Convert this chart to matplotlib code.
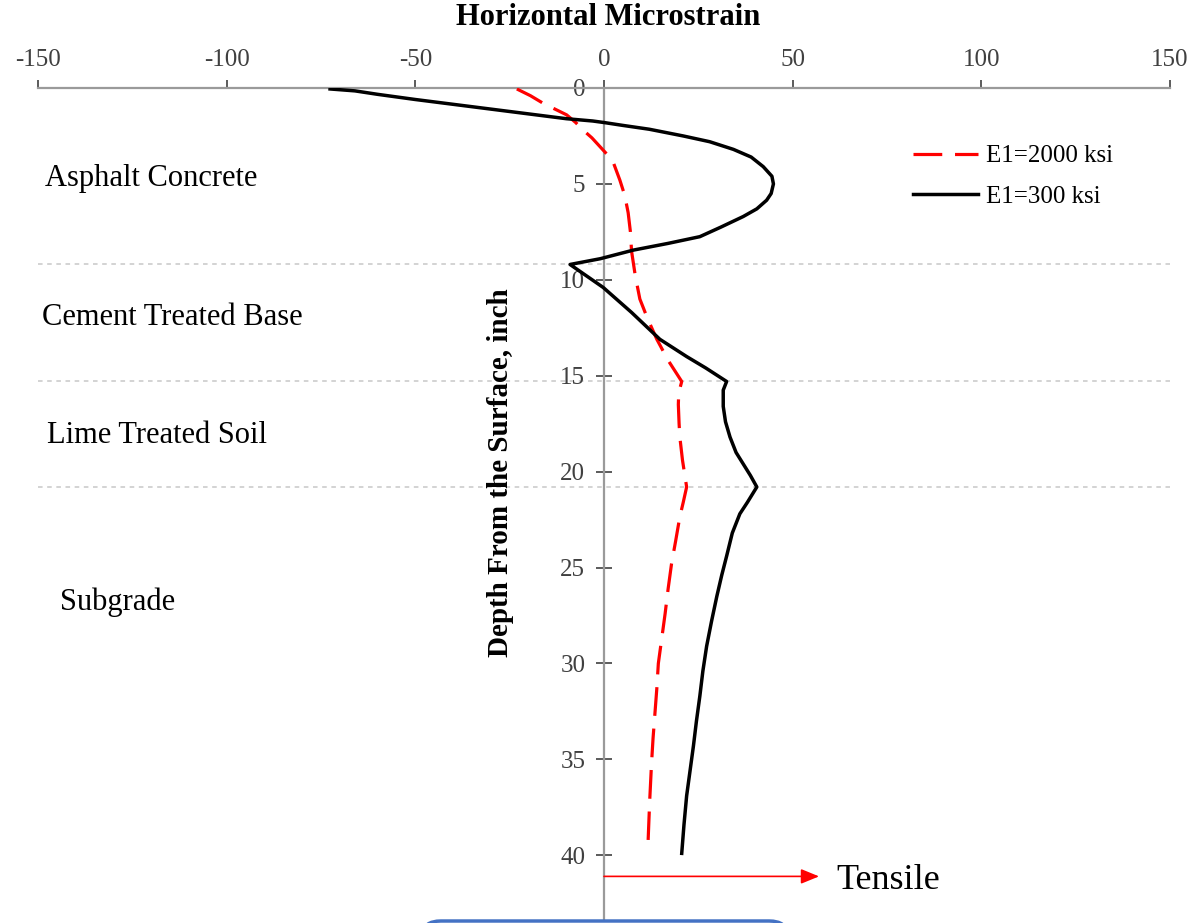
import matplotlib
matplotlib.use('Agg')  # no UI backend

import matplotlib.pyplot as plt
from matplotlib.patches import FancyBboxPatch

plt.rcParams['font.family'] = ['Liberation Serif', 'DejaVu Serif']
plt.rcParams['axes.unicode_minus'] = False

# E1 = 300 ksi (solid black)
depth_300 = [0.05, 0.15, 0.33, 0.6, 0.85, 1.1, 1.35, 1.6, 1.72, 1.8, 1.95, 2.15, 2.5,
             2.8, 3.2, 3.6, 4.1, 4.6, 5.0, 5.5, 5.85, 6.3, 6.7, 7.25, 7.75, 8.1, 8.45,
             8.9, 9.2, 10.4, 11.7, 13.1, 14.0, 14.6, 15.3, 15.75, 16.6, 17.4, 18.2,
             19.0, 19.6, 20.2, 20.8, 21.6, 22.2, 23.2, 24.4, 25.4, 26.5, 27.8, 29.1,
             30.4, 31.7, 33.0, 34.3, 35.6, 36.9, 38.4, 39.9]
strain_300 = [-72.6, -66, -60, -50, -40, -30, -20, -10, -3, 0, 5, 12, 21,
              28, 34.3, 39, 42.2, 44.5, 44.9, 44.3, 43.1, 40.5, 36.9, 31, 25.4, 17, 7.8,
              -1, -9, -0.2, 7.3, 14.8, 21.9, 27, 32.5, 31.6, 31.6, 32.2, 33.4,
              35, 36.9, 38.8, 40.5, 38, 36, 34, 32.5, 31.2, 29.9, 28.5, 27.2,
              26.2, 25.4, 24.5, 23.7, 22.8, 21.9, 21.2, 20.6]

# E1 = 2000 ksi (red dashed)
depth_2000 = [0.05, 0.4, 0.8, 1.1, 1.4, 1.8, 2.2, 2.6, 3.05, 3.5, 3.9, 4.8, 5.6, 6.5,
              7.5, 8.5, 9.8, 11.0, 12.0, 13.1, 14.2, 15.3, 15.9, 16.5, 17.5, 18.2,
              19.4, 20.8, 21.6, 22.35, 23.6, 24.8, 26.1, 27.4, 28.7, 30.0, 31.3, 32.6,
              33.9, 35.2, 37.2, 39.2]
strain_2000 = [-23.1, -19.5, -16.1, -13, -9.9, -7.5, -5.5, -3.2, -1.1, 1, 2.5, 4.2, 5.5,
               6.4, 7, 7.3, 8.3, 9.5, 11.5, 14, 17, 20.6, 19.8, 19.7, 19.9, 20.1,
               20.8, 21.9, 21, 20.1, 19, 17.9, 17, 16.2, 15.3, 14.4, 14, 13.5,
               13, 12.6, 12.1, 11.7]

layer_bounds = [9.2, 15.3, 20.8]
layer_names = ['Asphalt Concrete', 'Cement Treated Base', 'Lime Treated Soil', 'Subgrade']
layer_label_x = [-148.2, -149.0, -147.6, -144.2]
layer_label_y = [4.72, 11.95, 18.1, 26.8]

W, H = 1191, 923
fig = plt.figure(figsize=(W / 100, H / 100), dpi=100)
ax = fig.add_axes([38 / W, 0, 1132 / W, 1 - 88 / H])

ax.set_xlim(-150, 150)
ax.set_ylim(43.53, 0)

for b in layer_bounds:
    ax.axhline(b, color='#c8c8c8', linestyle=(0, (3, 3)), linewidth=1.1, zorder=1)

ax.plot(strain_2000, depth_2000, color='#ff0000', linewidth=2.3,
        linestyle=(0, (9, 4)), label='E1=2000 ksi', zorder=3)
ax.plot(strain_300, depth_300, color='black', linewidth=2.5,
        label='E1=300 ksi', zorder=3)

# spines: top axis + vertical axis through x = 0
for s in ['bottom', 'right']:
    ax.spines[s].set_visible(False)
ax.spines['left'].set_position(('data', 0))
for s in ['top', 'left']:
    ax.spines[s].set_color('#9a9a9a')
    ax.spines[s].set_linewidth(1.6)
    ax.spines[s].set_zorder(2)

ax.xaxis.tick_top()
ax.set_xticks(range(-150, 151, 50))
ax.set_yticks(range(0, 41, 5))
ax.tick_params(axis='x', direction='out', length=6, width=1.2, color='#404040',
               labelsize=18, labelcolor='#404040', pad=6)
ax.tick_params(axis='y', direction='inout', length=11, width=1.2, color='#404040',
               labelsize=18, labelcolor='#404040', pad=8)

fig.text(608 / W, 1 - 25 / H, 'Horizontal Microstrain', ha='center', va='baseline',
         fontsize=22, fontweight='bold')
fig.text(500 / W, 1 - 473 / H, 'Depth From the Surface, inch', ha='center',
         va='center', rotation=90, fontsize=21, fontweight='bold')

for name, lx, ly in zip(layer_names, layer_label_x, layer_label_y):
    ax.text(lx, ly, name, ha='left', va='center', fontsize=22)

ax.legend(loc='upper left', bbox_to_anchor=((913 - 38) / 1132, 1 - (145 - 88) / (H - 88)),
          bbox_transform=ax.transAxes, frameon=False, fontsize=18, handlelength=2.6,
          handletextpad=0.3, labelspacing=0.72, borderpad=0, borderaxespad=0)

# tensile direction arrow
ax.annotate('', xy=(57, 41.1), xytext=(0, 41.1),
            arrowprops=dict(arrowstyle='-|>,head_length=1.1,head_width=0.45',
                            color='#ff0000', lw=1.2, shrinkA=0, shrinkB=0))
ax.text(61.5, 41.3, 'Tensile', ha='left', va='center', fontsize=26)

# rounded box edge peeking in at the bottom
box = FancyBboxPatch((423 / W, -40 / H), (787 - 423) / W, 42 / H,
                     boxstyle='round,pad=0,rounding_size=0.015', transform=fig.transFigure,
                     facecolor='white', edgecolor='#4472c4', linewidth=2.5, zorder=10)
fig.patches.append(box)

fig.savefig('out.png', dpi=100)
